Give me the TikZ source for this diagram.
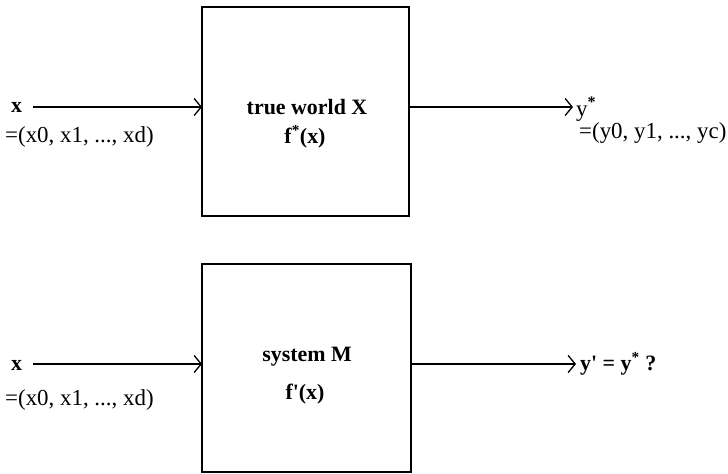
\documentclass[tikz,border=0pt]{standalone}
\usepackage{fontspec}
\setmainfont{Liberation Serif}
\usetikzlibrary{arrows.meta}
\begin{document}
\begin{tikzpicture}[x=1bp,y=-1bp,
  arr/.style={line width=1.3bp, -{Straight Barb[length=7bp,width=17bp,line width=1.3bp]}},
  bl/.style={font=\fontsize{22}{26}\selectfont\bfseries, inner sep=0pt},
  rg/.style={font=\fontsize{23}{27}\selectfont, inner sep=0pt}]
\useasboundingbox (0,0) rectangle (728,474);
% top system
\node[draw, line width=1.6bp, minimum width=207bp, minimum height=209bp, inner sep=0pt] (box1) at (305.5,111.5) {};
\node[bl] (t1) at (307,107) {true world X};
\node[bl] (f1) at (305,137) {f\textsuperscript{*}(x)};
\node[bl, anchor=west] (x1) at (11,107) {x};
\node[rg, anchor=west] (xv1) at (5,137) {=(x0, x1, ..., xd)};
\coordinate (in1) at (202,107);
\coordinate (s1) at (33,107);
\draw[arr] (s1) -- (in1);
\node[rg, anchor=west] (y1) at (576,109) {y\textsuperscript{\textbf{*}}};
\node[rg, anchor=west] (yv1) at (579,133) {=(y0, y1, ..., yc)};
\coordinate (out1) at (409,107);
\coordinate (e1) at (573,107);
\draw[arr] (out1) -- (e1);
% bottom system
\node[draw, line width=1.6bp, minimum width=209bp, minimum height=208bp, inner sep=0pt] (box2) at (306.5,368) {};
\node[bl] (t2) at (307,357) {system M};
\node[bl] (f2) at (305,394) {f\textquotesingle(x)};
\node[bl, anchor=west] (x2) at (11,365) {x};
\node[rg, anchor=west] (xv2) at (5,400) {=(x0, x1, ..., xd)};
\coordinate (s2) at (33,364);
\coordinate (in2) at (202,364);
\draw[arr] (s2) -- (in2);
\node[bl, anchor=west] (y2) at (580,364) {y\textquotesingle{} = y\textsuperscript{*} ?};
\coordinate (out2) at (411,364);
\coordinate (e2) at (576,364);
\draw[arr] (out2) -- (e2);
\end{tikzpicture}
\end{document}
